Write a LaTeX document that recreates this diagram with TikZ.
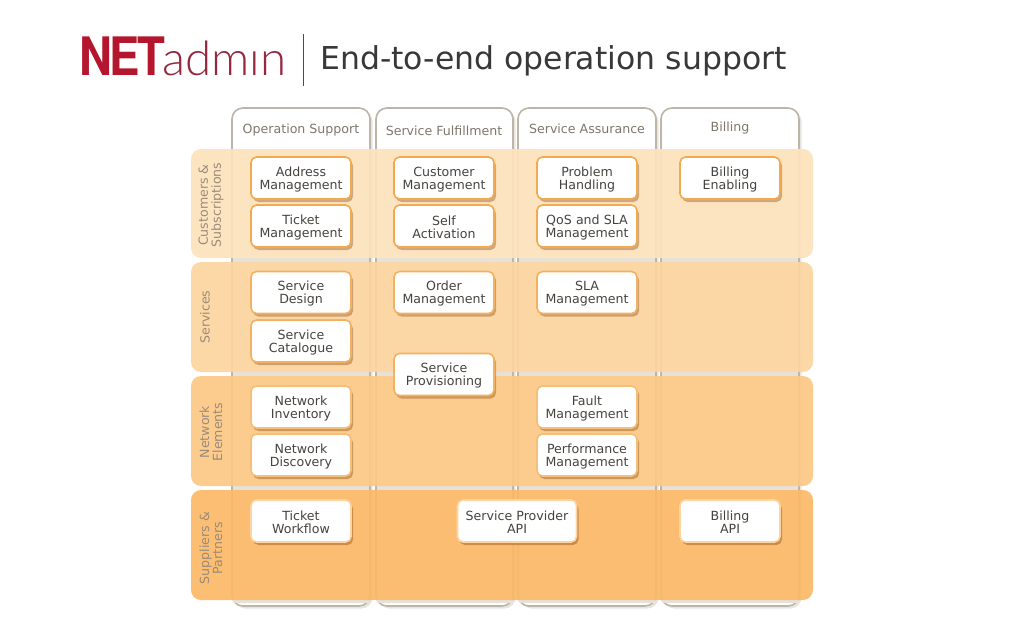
\documentclass[tikz,border=0pt]{standalone}
\usepackage{fontspec}
\usepackage{graphicx}
\setmainfont{DejaVu Sans}
\newfontfamily\logobold{TeX Gyre Heros}[UprightFont=*-Bold]
\newfontfamily\logothin{Lato Light}
\usetikzlibrary{shadows,calc}
\definecolor{txt}{HTML}{46433F}
\definecolor{lab}{HTML}{7E776C}
\definecolor{rowlab}{HTML}{9A8B78}
\definecolor{redA}{HTML}{B3162D}
\definecolor{redB}{HTML}{93283F}
\definecolor{rowA}{HTML}{FDE2BC}
\definecolor{rowB}{HTML}{FCD5A0}
\definecolor{rowC}{HTML}{FCC886}
\definecolor{rowD}{HTML}{FBB968}
\definecolor{bordA}{HTML}{F2A94F}
\definecolor{edge}{HTML}{BDB5A8}
\definecolor{gap}{HTML}{E6E2DB}
\tikzset{
 column/.style={draw=edge,line width=1.6pt,fill=white,rounded corners=11pt,
   drop shadow={shadow xshift=2.5pt,shadow yshift=-2.5pt,opacity=.35,fill=edge}},
 band/.style={fill=#1,fill opacity=.93,draw=none,rounded corners=10pt},
 gapfill/.style={fill=gap,draw=none},
 cellbox/.style={draw=#1,line width=1.6pt,fill=white,rounded corners=5.5pt,minimum height=42pt,text width=100pt,align=center,
   inner sep=0pt,font=\fontsize{12.6}{13}\selectfont,text=txt,
   execute at begin node={\rule{0pt}{12.4pt}},
   drop shadow={shadow xshift=2pt,shadow yshift=-3pt,opacity=.35,fill=black!55!orange}},
 coltitle/.style={font=\fontsize{12.6}{14}\selectfont,text=lab,inner sep=0pt},
 rowtitle/.style={font=\fontsize{12.6}{13}\selectfont,text=rowlab,rotate=90,align=center,inner sep=0pt},
}
\begin{document}
\begin{tikzpicture}[x=1pt,y=-1pt]
\useasboundingbox (0,0) rectangle (1024,640);
% header
\node[anchor=base west,inner sep=0pt,text=redA] (net) at (79,75) {\scalebox{.86}[1]{\logobold\fontsize{53}{53}\selectfont\addfontfeature{LetterSpace=-6}NET}};
\node[anchor=base west,inner sep=0pt,text=redB] (adm) at (162,75) {\logothin\fontsize{47.5}{48}\selectfont adm\i n};
\coordinate (ruleT) at (303,34);
\coordinate (ruleB) at (303,86);
\draw[redB,line width=1pt] (ruleT) -- (ruleB);
\node[anchor=base west,inner sep=0pt,text=black!78] (title) at (320,69) {\fontsize{31.5}{32}\selectfont End-to-end operation support};
% columns
\draw[column] (232,108) rectangle (370,606);
\draw[column] (376,108) rectangle (513,606);
\draw[column] (518,108) rectangle (656,606);
\draw[column] (661,108) rectangle (799,606);
\node[coltitle] (c1) at (301,130.5) {Operation Support};
\node[coltitle] (c2) at (444,130.5) {Service Fulfillment};
\node[coltitle] (c3) at (587,128.5) {Service Assurance};
\node[coltitle] (c4) at (730,128.5) {Billing};
% shading in the gaps
\foreach \yy in {258,372,486}{
  \fill[gapfill] (233,\yy) rectangle (369,\yy+4);
  \fill[gapfill] (377,\yy) rectangle (512,\yy+4);
  \fill[gapfill] (519,\yy) rectangle (655,\yy+4);
  \fill[gapfill] (662,\yy) rectangle (798,\yy+4);
}
\foreach \xa/\xb in {233/369,377/512,519/655,662/798}{
  \fill[gapfill] (\xa,600) rectangle (\xb,603);
}
% rows
\fill[band=rowA] (191,149) rectangle (813,258);
\fill[band=rowB] (191,262) rectangle (813,372);
\fill[band=rowC] (191,376) rectangle (813,486);
\fill[band=rowD] (191,490) rectangle (813,600);
\node[rowtitle] (r1) at (211,205) {Customers \&\\Subscriptions};
\node[rowtitle] (r2) at (205,317) {Services};
\node[rowtitle] (r3) at (211,432) {Network\\Elements};
\node[rowtitle] (r4) at (211,548) {Suppliers \&\\Partners};
% boxes
\node[cellbox=bordA] (a1) at (301,178) {Address\\Management};
\node[cellbox=bordA] (a2) at (301,226) {Ticket\\Management};
\node[cellbox=bordA] (a3) at (444,178) {Customer\\Management};
\node[cellbox=bordA] (a4) at (444,226) {Self\\Activation};
\node[cellbox=bordA] (a5) at (587,178) {Problem\\Handling};
\node[cellbox=bordA] (a6) at (587,226) {QoS and SLA\\Management};
\node[cellbox=bordA] (a7) at (730,178) {Billing\\Enabling};
\node[cellbox=bordA!90!white] (b1) at (301,292.5) {Service\\Design};
\node[cellbox=bordA!90!white] (b2) at (301,341) {Service\\Catalogue};
\node[cellbox=bordA!90!white] (b3) at (444,292.5) {Order\\Management};
\node[cellbox=bordA!90!white] (b4) at (587,292.5) {SLA\\Management};
\node[cellbox=bordA!90!white] (b5) at (444,374.5) {Service\\Provisioning};
\node[cellbox=bordA!75!white] (d1) at (301,407) {Network\\Inventory};
\node[cellbox=bordA!75!white] (d2) at (301,455) {Network\\Discovery};
\node[cellbox=bordA!75!white] (d3) at (587,407) {Fault\\Management};
\node[cellbox=bordA!75!white] (d4) at (587,455) {Performance\\Management};
\node[cellbox=rowD!60!white] (e1) at (301,521) {Ticket\\Workflow};
\node[cellbox=rowD!60!white,text width=119pt] (e2) at (517,521) {Service Provider\\API};
\node[cellbox=rowD!60!white] (e3) at (730,521) {Billing\\API};
\end{tikzpicture}
\end{document}
